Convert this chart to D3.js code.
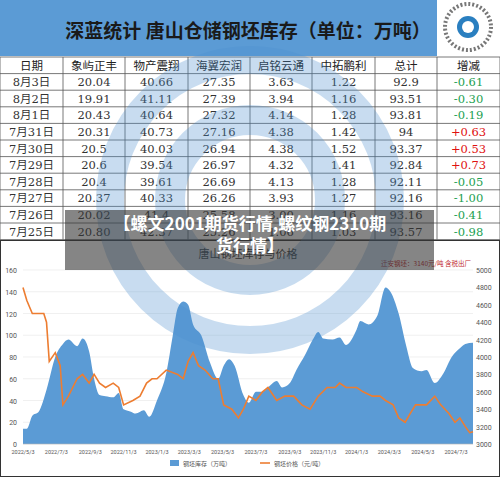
<!DOCTYPE html><html><head><meta charset="utf-8"><script src="https://cdn.jsdelivr.net/npm/d3@7"></script>
<style>body{margin:0;background:#fff}svg{display:block}</style></head><body><svg id="c" width="500" height="478"></svg>
<script>
const headers=["日期","象屿正丰","物产震翔","海翼宏润","启铭云通","中拓鹏利","总计","增减"];
const dates=["8月3日","8月2日","8月1日","7月31日","7月30日","7月29日","7月28日","7月27日","7月26日","7月25日"];
const xiangyu=["20.04","19.91","20.43","20.31","20.5","20.6","20.4","20.37","20.02","20.80"];
const wuchan=["40.66","41.11","40.64","40.73","40.03","39.54","39.61","40.33","41.4","42.37"];
const haiyi=["27.35","27.39","27.32","27.16","26.94","26.97","26.69","26.26","25.58","25.26"];
const qiming=["3.63","3.94","4.14","4.38","4.38","4.32","4.13","3.93","3.00","1.06"];
const zhongtuo=["1.22","1.16","1.28","1.42","1.52","1.41","1.28","1.27","1.16","1.03"];
const total=["92.9","93.51","93.81","94","93.37","92.84","92.11","92.16","93.16","93.57"];
const change=["-0.61","-0.30","-0.19","+0.63","+0.53","+0.73","-0.05","-1.00","-0.41","-0.98"];
const invDates=["2022-05-03","2022-05-10","2022-05-20","2022-06-01","2022-06-15","2022-07-01","2022-07-15","2022-07-25","2022-08-10","2022-08-20","2022-09-01","2022-09-10","2022-09-20","2022-10-01","2022-10-15","2022-10-25","2022-11-03","2022-11-15","2022-11-25","2022-12-10","2022-12-20","2023-01-03","2023-01-20","2023-02-01","2023-02-10","2023-02-20","2023-03-01","2023-03-10","2023-03-25","2023-04-10","2023-04-25","2023-05-05","2023-05-15","2023-05-25","2023-06-10","2023-06-20","2023-07-03","2023-07-15","2023-07-25","2023-08-10","2023-08-20","2023-09-03","2023-09-15","2023-10-01","2023-10-15","2023-10-25","2023-11-03","2023-11-20","2023-12-03","2023-12-15","2024-01-03","2024-01-10","2024-01-25","2024-02-10","2024-02-25","2024-03-05","2024-03-20","2024-04-03","2024-04-15","2024-05-01","2024-05-10","2024-05-25","2024-06-10","2024-06-25","2024-07-10","2024-07-20","2024-08-03"];
const invVals=[14,14,26,30,50,80,92,96,90,97,85,60,45,44,43,47,32,30,28,31,25,40,65,100,125,131,128,110,100,75,60,72,78,72,45,38,48,48,52,58,52,56,68,82,96,103,97,96,98,91,105,113,110,118,144,140,120,90,70,67,68,56,65,80,88,92,93];
const priceDates=["2022-05-03","2022-05-10","2022-05-20","2022-06-01","2022-06-10","2022-06-15","2022-06-20","2022-07-01","2022-07-10","2022-07-15","2022-07-25","2022-08-10","2022-08-20","2022-09-01","2022-09-10","2022-09-20","2022-10-01","2022-10-15","2022-10-25","2022-11-03","2022-11-20","2022-12-03","2022-12-15","2022-12-25","2023-01-03","2023-01-20","2023-02-10","2023-02-20","2023-03-01","2023-03-10","2023-03-20","2023-04-01","2023-04-15","2023-04-25","2023-05-05","2023-05-20","2023-06-01","2023-06-10","2023-06-20","2023-07-03","2023-07-15","2023-07-25","2023-08-10","2023-08-25","2023-09-10","2023-09-25","2023-10-10","2023-10-25","2023-11-10","2023-11-25","2023-12-03","2023-12-15","2024-01-03","2024-01-15","2024-02-01","2024-02-15","2024-02-25","2024-03-10","2024-03-20","2024-04-01","2024-04-10","2024-04-20","2024-05-01","2024-05-10","2024-05-25","2024-06-05","2024-06-20","2024-07-01","2024-07-10","2024-07-20","2024-07-28","2024-08-03"];
const priceVals=[4800,4650,4500,4500,4500,4400,3950,4050,3900,3450,3550,3750,3800,3700,3800,3700,3650,3700,3650,3450,3500,3550,3700,3750,3750,3850,3800,3750,3950,4050,3900,3850,3750,3750,3450,3400,3300,3400,3550,3500,3600,3650,3500,3550,3550,3450,3400,3550,3650,3650,3700,3650,3650,3600,3550,3550,3500,3450,3300,3250,3350,3450,3450,3450,3550,3450,3350,3250,3300,3200,3130,3140];
const xTicks=["2022/5/3","2022/7/3","2022/9/3","2022/11/3","2023/1/3","2023/3/3","2023/5/3","2023/7/3","2023/9/3","2023/11/3","2024/1/3","2024/3/3","2024/5/3","2024/7/3"];
const leftTicks=[0,20,40,60,80,100,120,140,160];
const rightTicks=[3000,3200,3400,3600,3800,4000,4200,4400,4600,4800,5000];

const svg=d3.select("#c");
const serif="'DejaVu Serif','Liberation Serif','Noto Sans CJK SC',serif";
// title band
svg.append("rect").attr("x",0).attr("y",0).attr("width",437).attr("height",56).attr("fill","#5b9bd5");
svg.append("text").attr("x",248).attr("y",38).attr("text-anchor","middle").attr("font-size",19).attr("font-family","'Noto Sans CJK SC'").attr("font-weight","bold").attr("fill","#1a1a1a").text("深蓝统计  唐山仓储钢坯库存（单位：万吨）");
// QR placeholder
const qr=svg.append("g");
qr.append("rect").attr("x",437).attr("y",0).attr("width",63).attr("height",56).attr("fill","#fff");
qr.append("circle").attr("cx",468).attr("cy",27).attr("r",23).attr("fill","none").attr("stroke","#777").attr("stroke-width",4).attr("stroke-dasharray","2,2");
qr.append("circle").attr("cx",468).attr("cy",27).attr("r",11).attr("fill","#2a7fc0");
qr.append("circle").attr("cx",468).attr("cy",27).attr("r",6).attr("fill","#fff");
// table
const colX=[0,63,125,188,250,312,375,437,500];
const rowY0=57,rowH=16.6;
const tbl=svg.append("g");
const nRows=dates.length+1;
for(let r=0;r<=nRows;r++)tbl.append("line").attr("x1",0).attr("x2",500).attr("y1",rowY0+r*rowH).attr("y2",rowY0+r*rowH).attr("stroke","#555").attr("stroke-width",0.8);
colX.forEach(x=>tbl.append("line").attr("x1",x).attr("x2",x).attr("y1",rowY0).attr("y2",rowY0+nRows*rowH).attr("stroke","#555").attr("stroke-width",0.8));
const cols=[dates,xiangyu,wuchan,haiyi,qiming,zhongtuo,total,change];
headers.forEach((h,i)=>tbl.append("text").attr("x",(colX[i]+colX[i+1])/2).attr("y",rowY0+12.5).attr("text-anchor","middle").attr("font-size",11.5).attr("font-family",serif).attr("fill","#222").text(h));
dates.forEach((d,r)=>cols.forEach((c,i)=>{
  const v=c[r];let fill="#333";
  if(i===7)fill=v[0]==="+"?"#e01010":"#1aa050";
  tbl.append("text").attr("x",(colX[i]+colX[i+1])/2).attr("y",rowY0+(r+1)*rowH+12.5).attr("text-anchor","middle").attr("font-size",11.5).attr("font-family",serif).attr("fill",fill).text(v);
}));
// chart
const parse=d3.timeParse("%Y-%m-%d");
const x=d3.scaleTime().domain([parse("2022-05-03"),parse("2024-08-03")]).range([23,473]);
const yL=d3.scaleLinear().domain([0,160]).range([444,270]);
const yR=d3.scaleLinear().domain([3000,5000]).range([444,270]);
const ch=svg.append("g");
leftTicks.forEach(t=>{ch.append("line").attr("x1",23).attr("x2",473).attr("y1",yL(t)).attr("y2",yL(t)).attr("stroke","#e6e6e6").attr("stroke-width",0.6);
 ch.append("text").attr("x",17).attr("y",yL(t)+3).attr("text-anchor","end").attr("font-size",7).attr("font-family","Roboto").attr("fill","#555").text(t);});
rightTicks.forEach(t=>ch.append("text").attr("x",476).attr("y",yR(t)+3).attr("font-size",7).attr("font-family","Roboto").attr("fill","#555").text(t));
const inv=invDates.map((d,i)=>({d:parse(d),v:invVals[i]}));
ch.append("path").datum(inv).attr("fill","#5b9bd5").attr("d",d3.area().x(d=>x(d.d)).y0(yL(0)).y1(d=>yL(d.v)).curve(d3.curveMonotoneX));
const pr=priceDates.map((d,i)=>({d:parse(d),v:priceVals[i]}));
ch.append("path").datum(pr).attr("fill","none").attr("stroke","#ed7d31").attr("stroke-width",1.6).attr("d",d3.line().x(d=>x(d.d)).y(d=>yR(d.v)));
xTicks.forEach(t=>{const dt=d3.timeParse("%Y/%m/%d")(t);ch.append("text").attr("x",x(dt)).attr("y",454).attr("text-anchor","middle").attr("font-size",5.5).attr("font-family","Roboto").attr("fill","#555").text(t);});
ch.append("line").attr("x1",23).attr("x2",473).attr("y1",444).attr("y2",444).attr("stroke","#bbb").attr("stroke-width",0.6);
// legend
ch.append("rect").attr("x",170).attr("y",460).attr("width",9).attr("height",6).attr("fill","#5b9bd5");
ch.append("text").attr("x",183).attr("y",466).attr("font-size",6).attr("font-family","'Noto Sans CJK SC'").attr("fill","#555").text("钢坯库存（万吨）");
ch.append("line").attr("x1",260).attr("x2",270).attr("y1",463).attr("y2",463).attr("stroke","#ed7d31").attr("stroke-width",1.6);
ch.append("text").attr("x",274).attr("y",466).attr("font-size",6).attr("font-family","'Noto Sans CJK SC'").attr("fill","#555").text("钢坯价格（元/吨）");
ch.append("text").attr("x",248).attr("y",258).attr("text-anchor","middle").attr("font-size",11).attr("font-family","'Noto Sans CJK SC'").attr("fill","#333").text("唐山钢坯库存与价格");
ch.append("text").attr("x",471).attr("y",266).attr("text-anchor","end").attr("font-size",6.5).attr("font-family","'Noto Sans CJK SC'").attr("fill","#c0282d").text("迁安钢坯：3140元/吨 含税出厂");
svg.append("rect").attr("x",0.5).attr("y",240.5).attr("width",499).attr("height",236).attr("fill","none").attr("stroke","#333").attr("stroke-width",1);
// watermark
const wm=svg.append("g").attr("opacity",0.3);
wm.append("circle").attr("cx",250).attr("cy",200).attr("r",140).attr("fill","none").attr("stroke","#4b8fcf").attr("stroke-width",28);
wm.append("circle").attr("cx",250).attr("cy",200).attr("r",80).attr("fill","none").attr("stroke","#4b8fcf").attr("stroke-width",30);
// overlay banner
svg.append("rect").attr("x",65).attr("y",210).attr("width",369).attr("height",60).attr("fill","#333").attr("opacity",0.6);
svg.append("text").attr("x",250).attr("y",230).attr("text-anchor","middle").attr("font-size",17).attr("font-weight","bold").attr("font-family","'Noto Sans CJK SC'").attr("fill","#fff").text("【螺文2001期货行情,螺纹钢2310期");
svg.append("text").attr("x",250).attr("y",252).attr("text-anchor","middle").attr("font-size",17).attr("font-weight","bold").attr("font-family","'Noto Sans CJK SC'").attr("fill","#fff").text("货行情】");
</script></body></html>
